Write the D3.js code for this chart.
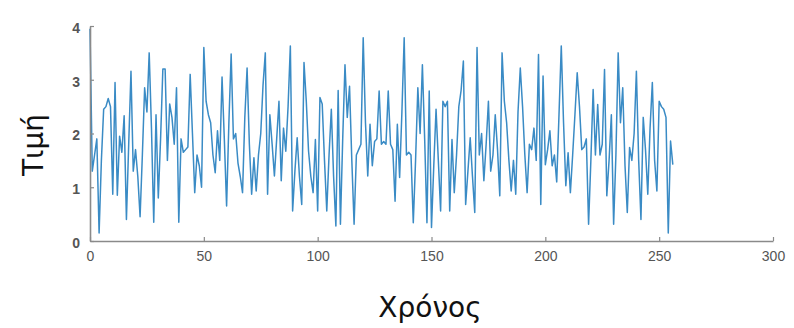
<!DOCTYPE html>
<html>
<head>
<meta charset="utf-8">
<script src="https://cdn.jsdelivr.net/npm/d3@7"></script>
<style>
  html, body { margin: 0; padding: 0; background: #fff; }
  svg { display: block; }
</style>
</head>
<body>
<div id="chart"></div>
<script>
// ---- data ----
const xTicks = [0, 50, 100, 150, 200, 250, 300];
const yTicks = [0, 1, 2, 3, 4];
const xLabel = "Χρόνος";
const yLabel = "Τιμή";
const values = [
  3.95, 1.3, 1.6, 1.9, 0.15, 1.5, 2.45, 2.5, 2.65, 2.5,
  0.87, 2.95, 0.85, 1.95, 1.65, 2.33, 0.4, 1.8, 3.16, 1.3,
  1.7, 1.2, 0.45, 1.6, 2.85, 2.4, 3.5, 2.1, 0.35, 2.35,
  0.8, 1.9, 3.2, 3.2, 1.5, 2.55, 2.3, 1.8, 2.85, 0.35,
  1.9, 1.65, 1.7, 1.75, 3.1, 2.0, 0.9, 1.6, 1.4, 1.0,
  3.6, 2.6, 2.35, 2.2, 1.6, 1.27, 2.05, 1.5, 3.05, 1.9,
  0.65, 2.2, 3.48, 1.9, 2.0, 1.45, 1.2, 0.9, 2.3, 3.22,
  1.8, 0.87, 1.55, 0.93, 1.6, 2.0, 2.9, 3.5, 0.87, 2.35,
  1.8, 1.21, 1.9, 2.6, 1.12, 2.1, 1.67, 2.5, 3.63, 0.56,
  1.3, 1.92, 1.2, 0.68, 3.32, 2.6, 1.67, 1.2, 0.9, 1.89,
  0.56, 2.67, 2.55, 1.5, 0.56, 1.6, 2.45, 1.2, 0.28, 2.8,
  0.31, 1.9, 3.28, 2.3, 2.88, 1.5, 0.31, 1.6, 1.7, 1.8,
  3.78, 2.2, 1.21, 2.17, 1.4, 1.85, 1.9, 2.79, 1.8, 1.85,
  1.8, 2.79, 1.8, 1.7, 0.74, 2.17, 1.18, 2.4, 3.78, 1.6,
  1.65, 1.6, 0.34, 1.5, 2.85, 2.0, 3.28, 1.9, 0.34, 2.79,
  0.25, 1.4, 2.45, 1.5, 0.56, 2.6, 2.5, 2.6, 0.56, 1.89,
  0.9, 1.6, 2.5, 2.8, 3.35, 0.68, 1.3, 1.92, 1.2, 0.53,
  3.6, 1.6, 2.0, 1.12, 1.8, 2.6, 1.3, 1.6, 2.35, 1.7,
  0.84, 3.5, 2.6, 2.2, 1.5, 0.93, 1.5, 0.87, 2.4, 3.22,
  2.5, 1.6, 0.9, 1.8, 1.7, 2.1, 1.5, 3.47, 0.68, 3.07,
  1.42, 1.7, 2.05, 1.4, 1.6, 1.1, 2.35, 3.63, 2.2, 1.03,
  1.64, 0.9, 1.6, 2.35, 3.13, 2.5, 1.7, 1.75, 1.9, 0.31,
  1.5, 2.82, 1.6, 2.54, 1.6, 1.8, 3.19, 0.84, 1.5, 2.35,
  0.31, 1.6, 3.5, 2.2, 2.85, 1.4, 0.53, 1.74, 1.5, 2.0,
  3.16, 1.5, 0.4, 2.3, 1.7, 0.87, 2.1, 2.95, 1.5, 0.93,
  2.6, 2.5, 2.45, 2.3, 0.15, 1.86, 1.42
];
const times = values.map((_, i) => i);

// ---- layout ----
const W = 794, H = 328;
const svg = d3.select("#chart").append("svg").attr("width", W).attr("height", H);

const x = d3.scaleLinear().domain([0, 300]).range([90, 773]);
const y = d3.scaleLinear().domain([0, 4]).range([241, 26]);

const axisColor = "#8a8a8a";
const labelColor = "#555";

// data line
const line = d3.line().x((d, i) => x(times[i])).y(d => y(d));
svg.append("path")
  .datum(values)
  .attr("d", line)
  .attr("fill", "none")
  .attr("stroke", "#3a8bc5")
  .attr("stroke-width", 1.5)
  .attr("stroke-linejoin", "round");

// x axis (ticks inward)
const xAxis = svg.append("g")
  .attr("transform", `translate(0,${y(0)})`)
  .call(d3.axisBottom(x).tickValues(xTicks).tickFormat(d3.format("d"))
    .tickSizeInner(-4).tickSizeOuter(0).tickPadding(10));
xAxis.select(".domain").attr("stroke", axisColor).attr("stroke-width", 1.6);
xAxis.selectAll(".tick line").attr("stroke", axisColor).attr("stroke-width", 1.2);
xAxis.selectAll(".tick text")
  .attr("fill", labelColor)
  .style("font-family", "'Liberation Sans', Arial, sans-serif")
  .style("font-size", "14px");

// y axis (ticks inward)
const yAxis = svg.append("g")
  .attr("transform", `translate(${x(0)},0)`)
  .call(d3.axisLeft(y).tickValues(yTicks).tickFormat(d3.format("d"))
    .tickSizeInner(-4).tickSizeOuter(0).tickPadding(10));
yAxis.select(".domain").attr("stroke", axisColor).attr("stroke-width", 1.6);
yAxis.selectAll(".tick line").attr("stroke", axisColor).attr("stroke-width", 1.2);
yAxis.selectAll(".tick text")
  .attr("fill", labelColor)
  .attr("dy", "0.45em")
  .style("font-family", "'Liberation Sans', Arial, sans-serif")
  .style("font-size", "14px")
  .style("font-weight", "bold");

// axis titles
svg.append("text")
  .attr("x", 430).attr("y", 317)
  .attr("text-anchor", "middle")
  .style("font-family", "'DejaVu Sans', sans-serif")
  .style("font-size", "28px")
  .attr("fill", "#111")
  .text(xLabel);

svg.append("text")
  .attr("transform", "translate(43,145) rotate(-90)")
  .attr("text-anchor", "middle")
  .style("font-family", "'DejaVu Sans', sans-serif")
  .style("font-size", "28px")
  .attr("fill", "#111")
  .text(yLabel);
</script>
</body>
</html>
